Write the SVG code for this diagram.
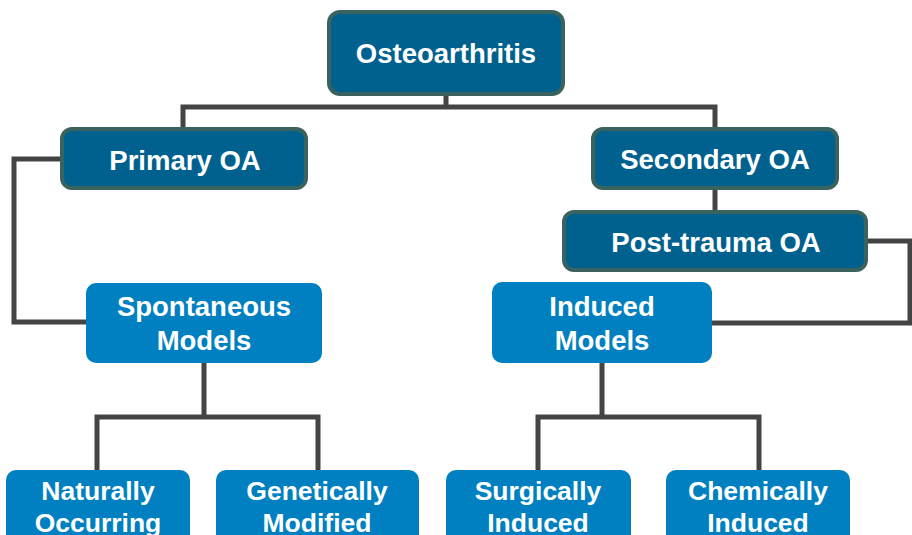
<svg xmlns="http://www.w3.org/2000/svg" width="912" height="535" viewBox="0 0 912 535">
<style>
.dark{fill:#00618f;stroke:#3a625e;stroke-width:4}
.light{fill:#0080c0}
.t{font-family:"Liberation Sans",Arial,sans-serif;font-weight:bold;fill:#ffffff;text-anchor:middle;font-size:27.5px}
.s{font-size:26.5px}
.c{fill:none;stroke:#444444;stroke-width:5;stroke-linejoin:miter}
</style>
<rect width="912" height="535" fill="#ffffff"/>
<g id="connectors">
<path class="c" d="M446 95 V107 M183 128 V107 H715 V128"/>
<path class="c" d="M62 159 H14 V322 H87"/>
<path class="c" d="M715 190 V211"/>
<path class="c" d="M867 241 H910 V323 H712"/>
<path class="c" d="M204 363 V417 M97 471 V417 H318 V471"/>
<path class="c" d="M602 363 V417 M538 471 V417 H759 V471"/>
</g>
<g id="osteoarthritis"><rect class="dark" x="329" y="12" width="234" height="82" rx="11"/><text class="t" x="446" y="63">Osteoarthritis</text></g>
<g id="primary"><rect class="dark" x="62" y="129" width="244" height="59" rx="10"/><text class="t" x="185" y="170">Primary OA</text></g>
<g id="secondary"><rect class="dark" x="593" y="129" width="244" height="59" rx="10"/><text class="t" x="715" y="169">Secondary OA</text></g>
<g id="posttrauma"><rect class="dark" x="564" y="212" width="302" height="58" rx="10"/><text class="t" x="716" y="252">Post-trauma OA</text></g>
<g id="spontaneous"><rect class="light" x="86" y="283" width="236" height="80" rx="10"/><text class="t" x="204" y="316">Spontaneous</text><text class="t" x="204" y="350">Models</text></g>
<g id="induced"><rect class="light" x="492" y="282" width="220" height="81" rx="10"/><text class="t" x="602" y="316">Induced</text><text class="t" x="602" y="350">Models</text></g>
<g id="naturally"><rect class="light" x="6" y="470" width="184" height="80" rx="10"/><text class="t s" x="98" y="500">Naturally</text><text class="t s" x="98" y="532">Occurring</text></g>
<g id="genetically"><rect class="light" x="216" y="470" width="203" height="80" rx="10"/><text class="t s" x="317" y="500">Genetically</text><text class="t s" x="317" y="532">Modified</text></g>
<g id="surgically"><rect class="light" x="446" y="470" width="185" height="80" rx="10"/><text class="t s" x="538" y="500">Surgically</text><text class="t s" x="538" y="532">Induced</text></g>
<g id="chemically"><rect class="light" x="666" y="470" width="184" height="80" rx="10"/><text class="t s" x="758" y="500">Chemically</text><text class="t s" x="758" y="532">Induced</text></g>
</svg>
